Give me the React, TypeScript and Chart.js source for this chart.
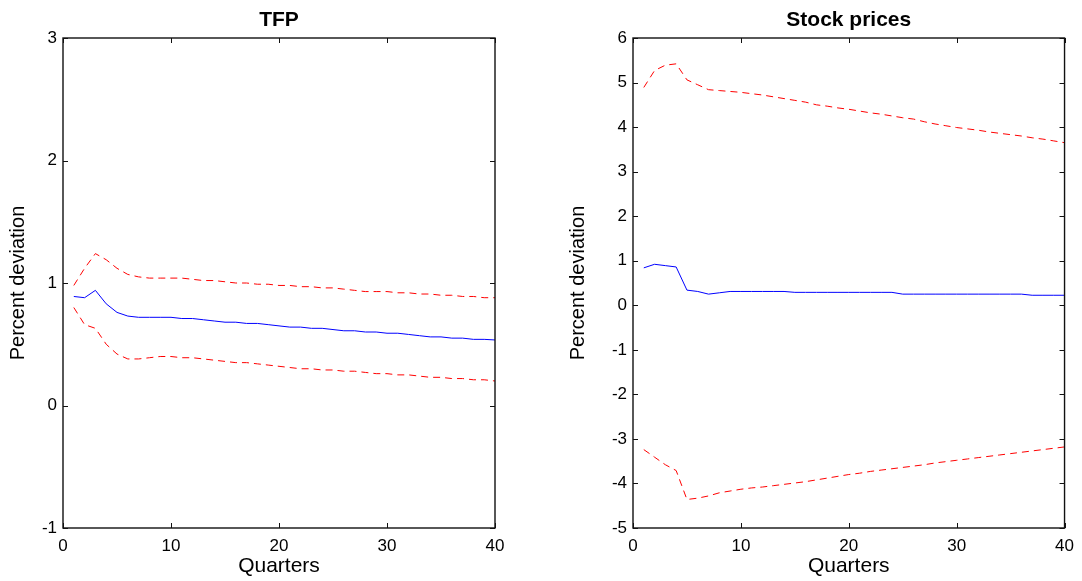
import React, { useEffect, useRef } from "react";
import { Chart, registerables } from "chart.js";

Chart.register(...registerables);

const quarters = [1, 2, 3, 4, 5, 6, 7, 8, 9, 10, 11, 12, 13, 14, 15, 16, 17, 18, 19, 20, 21, 22, 23, 24, 25, 26, 27, 28, 29, 30, 31, 32, 33, 34, 35, 36, 37, 38, 39, 40];

const tfpMedian = [0.89, 0.88, 0.94, 0.83, 0.76, 0.73, 0.72, 0.72, 0.72, 0.72, 0.71, 0.71, 0.70, 0.69, 0.68, 0.68, 0.67, 0.67, 0.66, 0.65, 0.64, 0.64, 0.63, 0.63, 0.62, 0.61, 0.61, 0.60, 0.60, 0.59, 0.59, 0.58, 0.57, 0.56, 0.56, 0.55, 0.55, 0.54, 0.54, 0.535];
const tfpUpper = [0.98, 1.12, 1.24, 1.19, 1.12, 1.07, 1.05, 1.04, 1.04, 1.04, 1.04, 1.03, 1.02, 1.02, 1.01, 1.0, 1.0, 0.99, 0.99, 0.98, 0.98, 0.97, 0.97, 0.96, 0.96, 0.95, 0.94, 0.93, 0.93, 0.93, 0.92, 0.92, 0.91, 0.91, 0.9, 0.9, 0.89, 0.89, 0.88, 0.88];
const tfpLower = [0.80, 0.66, 0.63, 0.50, 0.42, 0.38, 0.38, 0.39, 0.40, 0.40, 0.39, 0.39, 0.38, 0.37, 0.36, 0.35, 0.35, 0.34, 0.33, 0.32, 0.31, 0.30, 0.30, 0.29, 0.29, 0.28, 0.28, 0.27, 0.26, 0.26, 0.25, 0.25, 0.24, 0.23, 0.23, 0.22, 0.22, 0.21, 0.21, 0.20];

const stockMedian = [0.84, 0.92, 0.89, 0.86, 0.34, 0.31, 0.25, 0.28, 0.31, 0.31, 0.31, 0.31, 0.31, 0.31, 0.29, 0.29, 0.29, 0.29, 0.29, 0.29, 0.29, 0.29, 0.29, 0.29, 0.25, 0.25, 0.25, 0.25, 0.25, 0.25, 0.25, 0.25, 0.25, 0.25, 0.25, 0.25, 0.225, 0.225, 0.225, 0.225];
const stockUpper = [4.89, 5.27, 5.39, 5.42, 5.06, 4.95, 4.84, 4.82, 4.80, 4.78, 4.75, 4.72, 4.68, 4.64, 4.60, 4.56, 4.50, 4.47, 4.43, 4.40, 4.36, 4.32, 4.29, 4.25, 4.21, 4.18, 4.12, 4.07, 4.03, 3.99, 3.96, 3.93, 3.89, 3.86, 3.83, 3.80, 3.76, 3.73, 3.69, 3.65];
const stockLower = [-3.24, -3.41, -3.58, -3.71, -4.36, -4.33, -4.28, -4.21, -4.17, -4.13, -4.10, -4.08, -4.05, -4.02, -3.99, -3.96, -3.92, -3.88, -3.84, -3.80, -3.77, -3.73, -3.70, -3.67, -3.64, -3.61, -3.58, -3.54, -3.51, -3.48, -3.45, -3.42, -3.39, -3.36, -3.33, -3.30, -3.27, -3.24, -3.21, -3.18];

const xTicks = [0, 10, 20, 30, 40];
const FONT = "'Liberation Sans', Arial, sans-serif";
const H = 581;

type PanelProps = {
  left: number;
  width: number;
  areaLeft: number;
  areaRight: number;
  title: string;
  median: number[];
  upper: number[];
  lower: number[];
  yMin: number;
  yMax: number;
};

function Panel(props: PanelProps) {
  const ref = useRef<HTMLCanvasElement | null>(null);
  useEffect(() => {
    if (!ref.current) return;
    const toXY = (arr: number[]) => quarters.map((q, i) => ({ x: q, y: arr[i] }));
    const frame = {
      id: "frame",
      afterDraw(chart: any) {
        const { ctx, chartArea } = chart;
        const { left, right, top, bottom } = chartArea;
        const xs = chart.scales.x;
        const ys = chart.scales.y;
        ctx.save();
        ctx.strokeStyle = "#111";
        ctx.lineWidth = 1.4;
        ctx.strokeRect(left, top, right - left, bottom - top);
        ctx.lineWidth = 1;
        const tl = 5;
        ctx.beginPath();
        xTicks.forEach((v) => {
          const px = Math.round(xs.getPixelForValue(v)) + 0.5;
          ctx.moveTo(px, bottom);
          ctx.lineTo(px, bottom - tl);
          ctx.moveTo(px, top);
          ctx.lineTo(px, top + tl);
        });
        ys.ticks.forEach((t: any) => {
          const py = Math.round(ys.getPixelForValue(t.value)) + 0.5;
          ctx.moveTo(left, py);
          ctx.lineTo(left + tl, py);
          ctx.moveTo(right, py);
          ctx.lineTo(right - tl, py);
        });
        ctx.stroke();
        ctx.fillStyle = "#000";
        ctx.font = `bold 21px ${FONT}`;
        ctx.textAlign = "center";
        ctx.textBaseline = "middle";
        ctx.fillText(props.title, (left + right) / 2, 20);
        ctx.restore();
      },
    };
    const chart = new Chart(ref.current, {
      type: "line",
      data: {
        datasets: [
          {
            data: toXY(props.upper),
            borderColor: "#ff0000",
            borderWidth: 1,
            borderDash: [7, 5],
            pointRadius: 0,
            fill: false,
          },
          {
            data: toXY(props.lower),
            borderColor: "#ff0000",
            borderWidth: 1,
            borderDash: [7, 5],
            pointRadius: 0,
            fill: false,
          },
          {
            data: toXY(props.median),
            borderColor: "#0000ff",
            borderWidth: 1,
            pointRadius: 0,
            fill: false,
          },
        ],
      },
      options: {
        animation: false,
        responsive: true,
        maintainAspectRatio: false,
        layout: {
          padding: { left: 0, right: props.width - props.areaRight, top: 38, bottom: 0 },
        },
        plugins: {
          legend: { display: false },
          tooltip: { enabled: false },
          title: { display: false },
        },
        scales: {
          x: {
            type: "linear",
            min: 0,
            max: 40,
            grid: { display: false, drawTicks: false },
            border: { display: false },
            ticks: {
              stepSize: 10,
              padding: 8,
              color: "#000",
              font: { family: FONT, size: 17 },
              maxRotation: 0,
            },
            title: {
              display: true,
              text: "Quarters",
              color: "#000",
              font: { family: FONT, size: 21 },
              padding: { top: 0, bottom: 2 },
            },
            afterFit(scale: any) {
              scale.height = H - 528;
            },
          },
          y: {
            min: props.yMin,
            max: props.yMax,
            grid: { display: false, drawTicks: false },
            border: { display: false },
            ticks: {
              stepSize: 1,
              padding: 6,
              color: "#000",
              font: { family: FONT, size: 17 },
            },
            title: {
              display: true,
              text: "Percent deviation",
              color: "#000",
              font: { family: FONT, size: 20 },
              padding: { top: 6, bottom: 0 },
            },
            afterFit(scale: any) {
              scale.width = props.areaLeft;
            },
          },
        },
      },
      plugins: [frame],
    } as any);
    return () => chart.destroy();
  }, []);
  return (
    <div style={{ position: "absolute", left: props.left, top: 0, width: props.width, height: H }}>
      <canvas ref={ref} />
    </div>
  );
}

export default function App() {
  return (
    <div style={{ position: "fixed", left: 0, top: 0, width: 1082, height: H, background: "#fff" }}>
      <Panel
        left={0}
        width={545}
        areaLeft={63}
        areaRight={495}
        title="TFP"
        median={tfpMedian}
        upper={tfpUpper}
        lower={tfpLower}
        yMin={-1}
        yMax={3}
      />
      <Panel
        left={560}
        width={522}
        areaLeft={73}
        areaRight={506}
        title="Stock prices"
        median={stockMedian}
        upper={stockUpper}
        lower={stockLower}
        yMin={-5}
        yMax={6}
      />
    </div>
  );
}
